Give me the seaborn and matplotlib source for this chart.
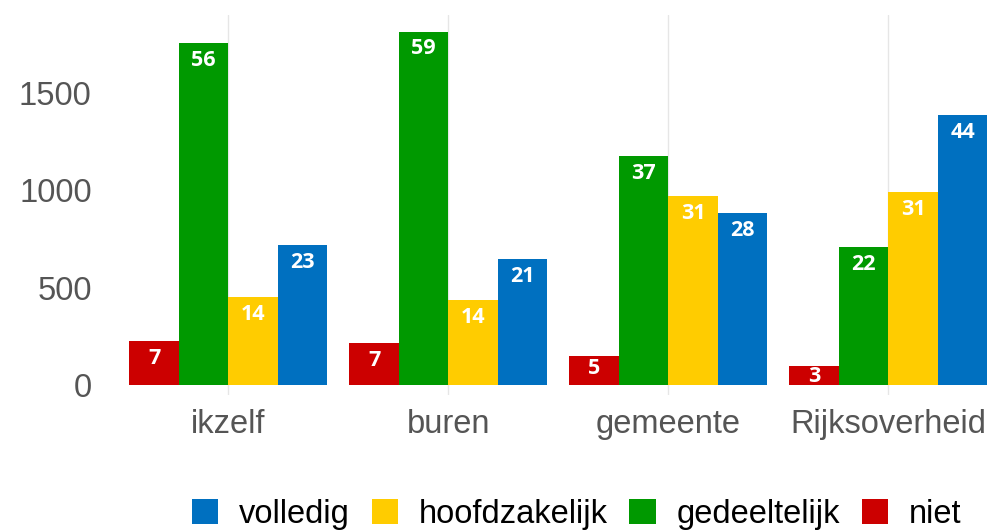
import matplotlib
matplotlib.use("Agg")
import matplotlib.pyplot as plt
import seaborn as sns
import pandas as pd
from matplotlib.patches import Patch

categories = ["ikzelf", "buren", "gemeente", "Rijksoverheid"]
series = ["niet", "gedeeltelijk", "hoofdzakelijk", "volledig"]
colors = ["#CC0000", "#009900", "#FFCC00", "#0070C0"]

niet = [226, 216, 149, 98]
gedeeltelijk = [1757, 1814, 1177, 709]
hoofdzakelijk = [452, 437, 971, 992]
volledig = [719, 647, 884, 1387]

pct_niet = [7, 7, 5, 3]
pct_gedeeltelijk = [56, 59, 37, 22]
pct_hoofdzakelijk = [14, 14, 31, 31]
pct_volledig = [23, 21, 28, 44]

values = [niet, gedeeltelijk, hoofdzakelijk, volledig]
pcts = [pct_niet, pct_gedeeltelijk, pct_hoofdzakelijk, pct_volledig]

rows = []
for s, vals in zip(series, values):
    for c, v in zip(categories, vals):
        rows.append({"cat": c, "serie": s, "value": v})
df = pd.DataFrame(rows)

sns.set_theme(style="white")
plt.rcParams["font.family"] = ["Liberation Sans", "DejaVu Sans"]

fig = plt.figure(figsize=(9.94, 5.32), dpi=100)
ax = fig.add_axes([0.1258, 0.2575, 0.872, 0.7145])

sns.barplot(data=df, x="cat", y="value", hue="serie", order=categories,
            hue_order=series, palette=colors, width=0.9, saturation=1,
            ax=ax, legend=False, linewidth=0)

ax.set_ylim(-50, 1900)
ax.set_xlim(-0.47, 3.47)

# pixels per data unit on the y axis
px_per_unit = ax.get_position().height * fig.get_figheight() * fig.dpi / (1900 + 50)

for cont, p in zip(ax.containers, pcts):
    anns = ax.bar_label(cont, labels=[str(v) for v in p], padding=-20, color="white",
                        fontsize=15.5, fontweight="bold",
                        family=["Open Sans", "DejaVu Sans"])
    for ann, bar in zip(anns, cont):
        h_px = bar.get_height() * px_per_unit
        off_px = min(27.8, max(h_px * 0.8, 21))
        ann.xyann = (0, -off_px * 72 / fig.dpi)

ax.set_yticks([0, 500, 1000, 1500])
ax.set_xlabel("")
ax.set_ylabel("")
for sp in ax.spines.values():
    sp.set_visible(False)
ax.tick_params(axis="both", length=0, labelsize=23.5, labelcolor="#555555")
ax.tick_params(axis="y", pad=24)
ax.tick_params(axis="x", pad=10)
ax.xaxis.grid(True, color="#e6e6e6", linewidth=1)
ax.yaxis.grid(False)
ax.set_axisbelow(True)

handles = [Patch(facecolor=c, edgecolor="none") for c in colors][::-1]
labels = series[::-1]
fig.legend(handles, labels, loc="center", bbox_to_anchor=(0.58, 0.033), ncol=4,
           frameon=False, fontsize=23.5, handlelength=0.8, handleheight=0.8,
           handletextpad=0.64, columnspacing=0.67, labelcolor="black",
           borderpad=0, borderaxespad=0)

fig.savefig("out.png", dpi=100)
